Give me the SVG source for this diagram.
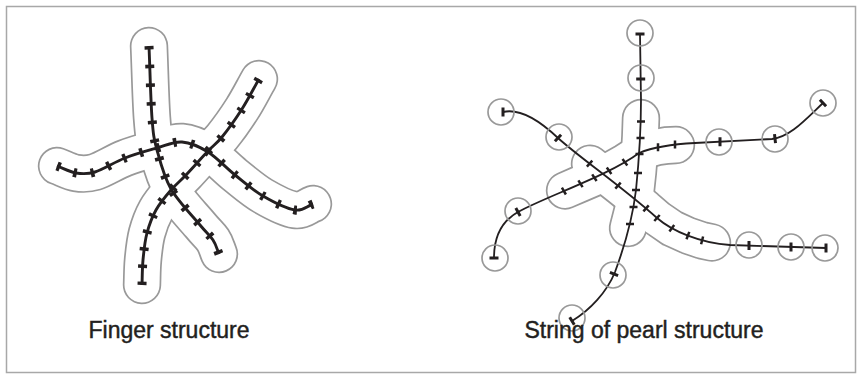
<svg xmlns="http://www.w3.org/2000/svg" width="862" height="380" viewBox="0 0 862 380">
<style>
.frame{fill:none;stroke:#a8a8a8;stroke-width:1.5}
.og{fill:none;stroke:#999;stroke-width:38.4;stroke-linecap:round;stroke-linejoin:round}
.ow{fill:none;stroke:#fff;stroke-width:35;stroke-linecap:round;stroke-linejoin:round}
.fl{fill:none;stroke:#231f20;stroke-width:2.9;stroke-linecap:butt}
.ft{fill:none;stroke:#231f20;stroke-width:9;stroke-dasharray:3.5 14.5}
.pl{fill:none;stroke:#231f20;stroke-width:1.8}
.pt{fill:none;stroke:#231f20;stroke-width:2.5}
.ct{fill:none;stroke:#231f20;stroke-width:3}
.pearl{fill:none;stroke:#999;stroke-width:1.7}
.lbl{font-family:"Liberation Sans",Arial,sans-serif;font-size:23px;fill:#231f20;stroke:#231f20;stroke-width:0.45;text-anchor:middle}
</style>
<defs>
<path id="fA" pathLength="219.5" d="M149,46 C150,70 150.7,100.7 152,118 C153.3,135.3 153.8,138.2 157,150 C160.2,161.8 163.8,176.5 171,189 C178.2,201.5 193,216.5 200,225 C207,233.5 209.8,235.2 213,240 C216.2,244.8 217,249.3 219,254"/>
<path id="fB" pathLength="291.5" d="M57,166 C63.3,168.3 69.7,172 76,173 C82.3,174 86.8,174.5 95,172 C103.2,169.5 114.7,162 125,158 C135.3,154 147.5,150.7 157,148 C166.5,145.3 173.5,141.3 182,142 C190.5,142.7 199.2,146.5 208,152 C216.8,157.5 225.8,167.7 235,175 C244.2,182.3 253,190.2 263,196 C273,201.8 286.7,208.7 295,210 C303.3,211.3 307,206 313,204"/>
<path id="fC" pathLength="255.5" d="M259,79 C253.3,89 248.2,99.3 242,109 C235.8,118.7 227.7,130 222,137 C216.3,144 214,144.7 208,151 C202,157.3 192.2,168.5 186,175 C179.8,181.5 176,184.2 171,190 C166,195.8 160,202.8 156,210 C152,217.2 149.2,224.7 147,233 C144.8,241.3 143.8,251.3 143,260 C142.2,268.7 142.3,276.7 142,285"/>
<path id="bV" d="M641,118 C640.5,140 639,165 636,190 C634,207 631,218 628,228"/>
<path id="bR" d="M639,153 C650,148 662,145 676,145"/>
<path id="bL" d="M639,153 L625,162 L609,171 L594,178 L580,184 L565,190.5"/>
<path id="bD" d="M590,163.7 L602,173 L618,185.6 L634.7,198.9 L646,208.3 L657,218 L672,228.3 L688,235.6 L702,240.4 L712,242.5"/>
</defs>

<rect class="frame" x="6.5" y="6.5" width="849" height="366"/>

<g id="finger-structure">
  <g id="finger-outline">
    <use href="#fA" class="og"/><use href="#fB" class="og"/><use href="#fC" class="og"/>
    <use href="#fA" class="ow"/><use href="#fB" class="ow"/><use href="#fC" class="ow"/>
  </g>
  <g id="finger-lines">
    <use href="#fA" class="fl"/><use href="#fB" class="fl"/><use href="#fC" class="fl"/>
    <use href="#fA" class="ft"/><use href="#fB" class="ft"/><use href="#fC" class="ft"/>
  </g>
  <text id="finger-label" class="lbl" x="169" y="338">Finger structure</text>
</g>

<g id="pearl-structure">
  <g id="pearl-outline">
    <use href="#bV" class="og"/><use href="#bR" class="og"/><use href="#bL" class="og"/><use href="#bD" class="og"/>
    <use href="#bV" class="ow"/><use href="#bR" class="ow"/><use href="#bL" class="ow"/><use href="#bD" class="ow"/>
  </g>
  <g id="pearl-lines">
    <path class="pl" d="M640,34 L641,100 C641,130 639,160 636,190 C633,215 625,245 615,272 C607,292 590,310 572,321"/>
    <path class="pl" d="M503,112 C520,108 540,121 558,138 C580,158 620,185 657,218 C672,231 700,243 730,245 L826,248"/>
    <path class="pl" d="M494,258 C494,238 500,222 518,212 C545,197 610,175 639,153 C656,146 675,144 695,143 L772,139 C790,137 805,120 823,103"/>
    <path class="pt" d="M637,121.5h8 M636.5,138h8 M635.5,154h8 M634,173h8 M632,190h8 M629.5,207h8 M626,224h8
      M592.3,160.7L586.9,166.7 M620.7,182.6L615.3,188.6 M648.7,205.3L643.4,211.3 M659.7,215L654.3,221 M674.2,225.1L669.4,231.5 M689.3,231.9L686.5,239.3 M703.1,236.5L701.1,244.3
      M561.9,187.7L565.9,194.5 M578.4,180.4L582.6,187.2 M592.2,174.4L596.6,181 M606.8,167.5L611.4,173.9 M622.5,159.1L627.3,165.5 M658,143.3v8 M675,140.6v8"/>
    <path class="ct" d="M635.5,34h9 M636.2,79h9 M503,107.5v9 M554.9,141.3L561.1,134.7 M515.8,208.1L520.2,215.9 M489.5,258h9 M720,137.2v9 M774.5,134.2L775.5,143.2 M819.9,99.7L826.1,106.3 M609.9,272.3L618.1,275.7 M569.7,317.2L574.3,324.8 M749,241.1v9 M791,242.4v9 M826,243.5v9"/>
  </g>
  <g id="pearls">
    <circle class="pearl" cx="640" cy="33" r="13"/>
    <circle class="pearl" cx="641" cy="78" r="13"/>
    <circle class="pearl" cx="501" cy="112" r="13"/>
    <circle class="pearl" cx="559" cy="137" r="13"/>
    <circle class="pearl" cx="518" cy="211" r="13"/>
    <circle class="pearl" cx="495" cy="258" r="13"/>
    <circle class="pearl" cx="719" cy="142" r="13"/>
    <circle class="pearl" cx="775" cy="139" r="13"/>
    <circle class="pearl" cx="823" cy="103" r="13"/>
    <circle class="pearl" cx="613" cy="275" r="13"/>
    <circle class="pearl" cx="572" cy="318" r="13"/>
    <circle class="pearl" cx="749" cy="245" r="13"/>
    <circle class="pearl" cx="791" cy="247" r="13"/>
    <circle class="pearl" cx="825" cy="248" r="13"/>
  </g>
  <text id="pearl-label" class="lbl" x="644" y="338">String of pearl structure</text>
</g>
</svg>
